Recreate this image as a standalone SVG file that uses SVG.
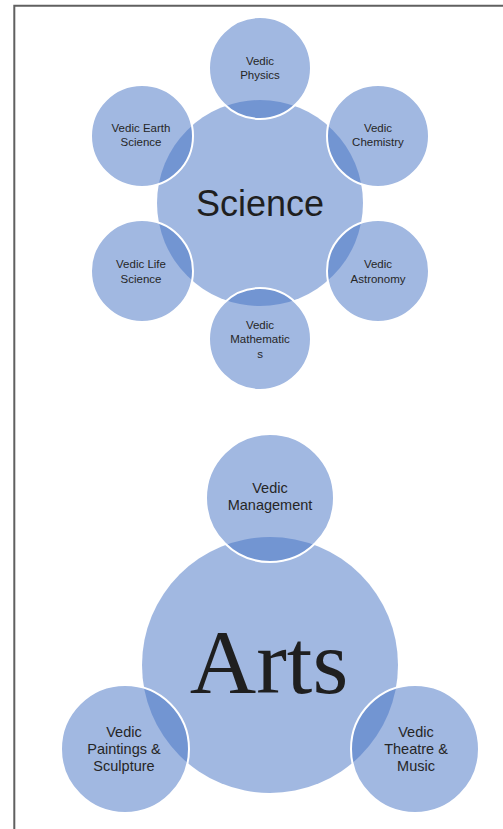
<svg xmlns="http://www.w3.org/2000/svg" width="503" height="829" viewBox="0 0 503 829">
<style>
.hub{fill:#4472C4;fill-opacity:0.5;}
.sat{fill:#4472C4;fill-opacity:0.5;stroke:#ffffff;stroke-width:2;}
.lbl{font-family:"Liberation Sans",Arial,sans-serif;font-size:11.5px;fill:#262626;text-anchor:middle;}
.lbl2{font-family:"Liberation Sans",Arial,sans-serif;font-size:14.5px;fill:#262626;text-anchor:middle;}
.frame{stroke:#606060;stroke-width:2;fill:none;}
</style>
<rect width="503" height="829" fill="#ffffff"/>
<g id="frame"><path class="frame" d="M14.3,829 V5.7 H503"/></g>
<g id="connectors"></g>
<g id="science">
<circle class="hub" cx="260" cy="203" r="103"/>
<text x="260" y="216" style="font-family:'Liberation Sans',Arial,sans-serif;font-size:36px;fill:#1f1f1f;text-anchor:middle">Science</text>
</g>
<g id="vedic-physics"><circle class="sat" cx="260" cy="68" r="51"/><text class="lbl" x="260" y="65">Vedic</text><text class="lbl" x="260" y="79">Physics</text></g>
<g id="vedic-chemistry"><circle class="sat" cx="378" cy="136" r="51"/><text class="lbl" x="378" y="132">Vedic</text><text class="lbl" x="378" y="146">Chemistry</text></g>
<g id="vedic-astronomy"><circle class="sat" cx="378" cy="271" r="51"/><text class="lbl" x="378" y="268">Vedic</text><text class="lbl" x="378" y="283">Astronomy</text></g>
<g id="vedic-mathematics"><circle class="sat" cx="260" cy="339" r="51"/><text class="lbl" x="260" y="329">Vedic</text><text class="lbl" x="260" y="343">Mathematic</text><text class="lbl" x="260" y="358">s</text></g>
<g id="vedic-life-science"><circle class="sat" cx="142" cy="271" r="51"/><text class="lbl" x="141" y="268">Vedic Life</text><text class="lbl" x="141" y="283">Science</text></g>
<g id="vedic-earth-science"><circle class="sat" cx="142" cy="136" r="51"/><text class="lbl" x="141" y="132">Vedic Earth</text><text class="lbl" x="141" y="146">Science</text></g>
<g id="arts">
<circle class="hub" cx="270" cy="665" r="128"/>
<text x="269" y="693" style="font-family:'Liberation Serif','Times New Roman',serif;font-size:92px;fill:#1f1f1f;text-anchor:middle">Arts</text>
</g>
<g id="vedic-management"><circle class="sat" cx="270" cy="498" r="64"/><text class="lbl2" x="270" y="493">Vedic</text><text class="lbl2" x="270" y="510">Management</text></g>
<g id="vedic-paintings"><circle class="sat" cx="125" cy="749" r="64"/><text class="lbl2" x="124" y="737">Vedic</text><text class="lbl2" x="124" y="754">Paintings &amp;</text><text class="lbl2" x="124" y="771">Sculpture</text></g>
<g id="vedic-theatre"><circle class="sat" cx="415" cy="749" r="64"/><text class="lbl2" x="416" y="737">Vedic</text><text class="lbl2" x="416" y="754">Theatre &amp;</text><text class="lbl2" x="416" y="771">Music</text></g>
</svg>
